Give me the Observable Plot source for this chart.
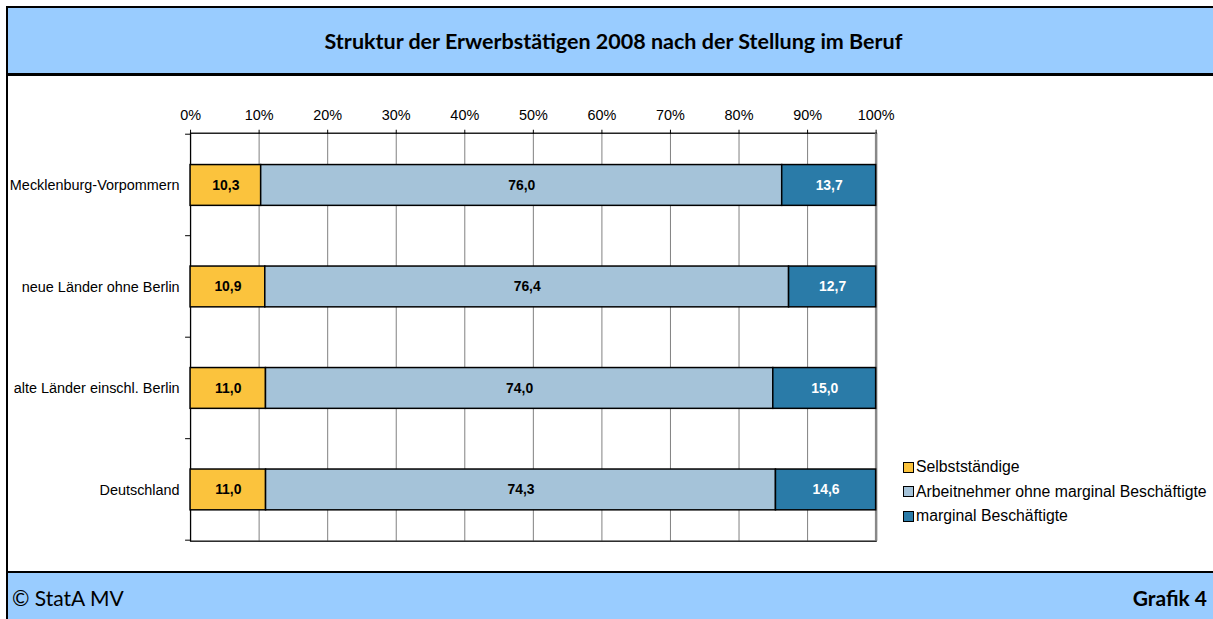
<!DOCTYPE html>
<html>
<head>
<meta charset="utf-8">
<script src="https://cdn.jsdelivr.net/npm/d3@7"></script>
<script src="https://cdn.jsdelivr.net/npm/@observablehq/plot@0.6"></script>
<style>
  html, body { margin: 0; padding: 0; background: #fff; }
  #page { position: relative; width: 1213px; height: 619px; overflow: hidden; background: #fff; }
  #header { position: absolute; left: 6px; top: 6px; width: 1205px; height: 65px;
    background: #99CCFF; border-left: 2px solid #000; border-top: 2px solid #000; border-bottom: 3px solid #000;
    font-family: Lato, "Open Sans", sans-serif; font-weight: bold; font-size: 21.5px; color: #000;
    display: flex; align-items: center; justify-content: center; }
  #header span { position: relative; left: 3px; }
  #chart { position: absolute; left: 6px; top: 76px; width: 1207px; height: 495px; border-left: 2px solid #000; }
  #chart svg { position: absolute; left: -8px; top: -1px; }
  #footer { position: absolute; left: 6px; top: 571px; width: 1205px; height: 48px;
    background: #99CCFF; border-left: 2px solid #000; border-top: 2px solid #000;
    font-family: Lato, "Open Sans", sans-serif; font-size: 21px; color: #000; }
  #footer .l { position: absolute; left: 4px; top: 12px; }
  #footer .r { position: absolute; right: 6px; top: 12px; font-weight: bold; }
  #legend { position: absolute; left: 903px; top: 455px; font-family: "Liberation Sans", Arial, sans-serif; font-size: 15.8px; color: #000; }
  #legend .item { display: flex; align-items: center; height: 24.5px; }
  #legend .sw { width: 9px; height: 9px; border: 1.3px solid #000; margin-right: 2px; }
</style>
</head>
<body>
<div id="page">
  <div id="header"><span></span></div>
  <div id="chart"></div>
  <div id="legend"></div>
  <div id="footer"><span class="l">© StatA MV</span><span class="r">Grafik 4</span></div>
</div>
<script>
const title = "Struktur der Erwerbstätigen 2008 nach der Stellung im Beruf";
const categories = ["Mecklenburg-Vorpommern", "neue Länder ohne Berlin", "alte Länder einschl. Berlin", "Deutschland"];
const seriesNames = ["Selbstständige", "Arbeitnehmer ohne marginal Beschäftigte", "marginal Beschäftigte"];
const selbststaendige = [10.3, 10.9, 11.0, 11.0];
const arbeitnehmer = [76.0, 76.4, 74.0, 74.3];
const marginal = [13.7, 12.7, 15.0, 14.6];
const seriesColors = ["#FBC33D", "#A5C3D9", "#2A7BA8"];
const labelColors = ["#000", "#000", "#fff"];
const xTicks = [0, 0.1, 0.2, 0.3, 0.4, 0.5, 0.6, 0.7, 0.8, 0.9, 1.0];

document.querySelector("#header span").textContent = title;

const seriesValues = [selbststaendige, arbeitnehmer, marginal];
const data = [];
categories.forEach((c, i) => {
  seriesNames.forEach((s, j) => {
    data.push({cat: c, series: s, value: seriesValues[j][i], order: j});
  });
});

const fmt = v => v.toFixed(1).replace(".", ",");

function boundaryTicks(index, scales, values, dimensions) {
  const y = scales.y;
  const bw = typeof y.bandwidth === "function" ? y.bandwidth() : y.bandwidth;
  const st = typeof y.step === "function" ? y.step() : y.step;
  const x0 = scales.x(0);
  const g = d3.create("svg:g").attr("stroke", "#000").attr("stroke-width", 1);
  const pos = [];
  categories.forEach(c => {
    pos.push(y(c) - (st - bw) / 2);
  });
  pos.push(y(categories[categories.length - 1]) + bw + (st - bw) / 2);
  pos.forEach(p => {
    g.append("line").attr("x1", x0 - 5).attr("x2", x0).attr("y1", p).attr("y2", p);
  });
  return g.node();
}

const chart = Plot.plot({
  width: 1213,
  height: 497,
  marginTop: 58,
  marginBottom: 29,
  marginLeft: 191,
  marginRight: 333,
  style: {fontFamily: "'Liberation Sans', Arial, sans-serif", fontSize: "14.5px", color: "#000", background: "transparent"},
  x: {domain: [0, 1], axis: null},
  y: {domain: categories, paddingInner: 0.6, paddingOuter: 0.3, axis: null},
  color: {domain: seriesNames, range: seriesColors},
  marks: [
    Plot.ruleX(xTicks.slice(1, -1), {stroke: "#808080", strokeWidth: 1}),
    Plot.frame({stroke: "#000", strokeWidth: 1.3}),
    Plot.ruleX([1], {stroke: "#888", strokeWidth: 2.5}),
    Plot.axisX({anchor: "top", ticks: xTicks, tickSize: 4, tickPadding: 9, tickFormat: d => Math.round(d * 100) + "%", label: null, fontSize: 14.5}),
    Plot.axisY({anchor: "left", tickSize: 0, tickPadding: 11, label: null, fontSize: 14.5}),
    boundaryTicks,
    Plot.barX(data, Plot.stackX({x: "value", y: "cat", z: "series", order: "order", offset: "normalize", fill: "series", stroke: "#000", strokeWidth: 1.5})),
    Plot.text(data, Plot.stackX({x: "value", y: "cat", z: "series", order: "order", offset: "normalize",
      text: d => fmt(d.value), fill: d => labelColors[d.order], fontWeight: "bold", fontSize: 14}))
  ]
});
document.getElementById("chart").appendChild(chart);

const legend = d3.select("#legend");
seriesNames.forEach((s, j) => {
  const it = legend.append("div").attr("class", "item");
  it.append("div").attr("class", "sw").style("background", seriesColors[j]);
  it.append("span").text(s);
});
</script>
</body>
</html>
